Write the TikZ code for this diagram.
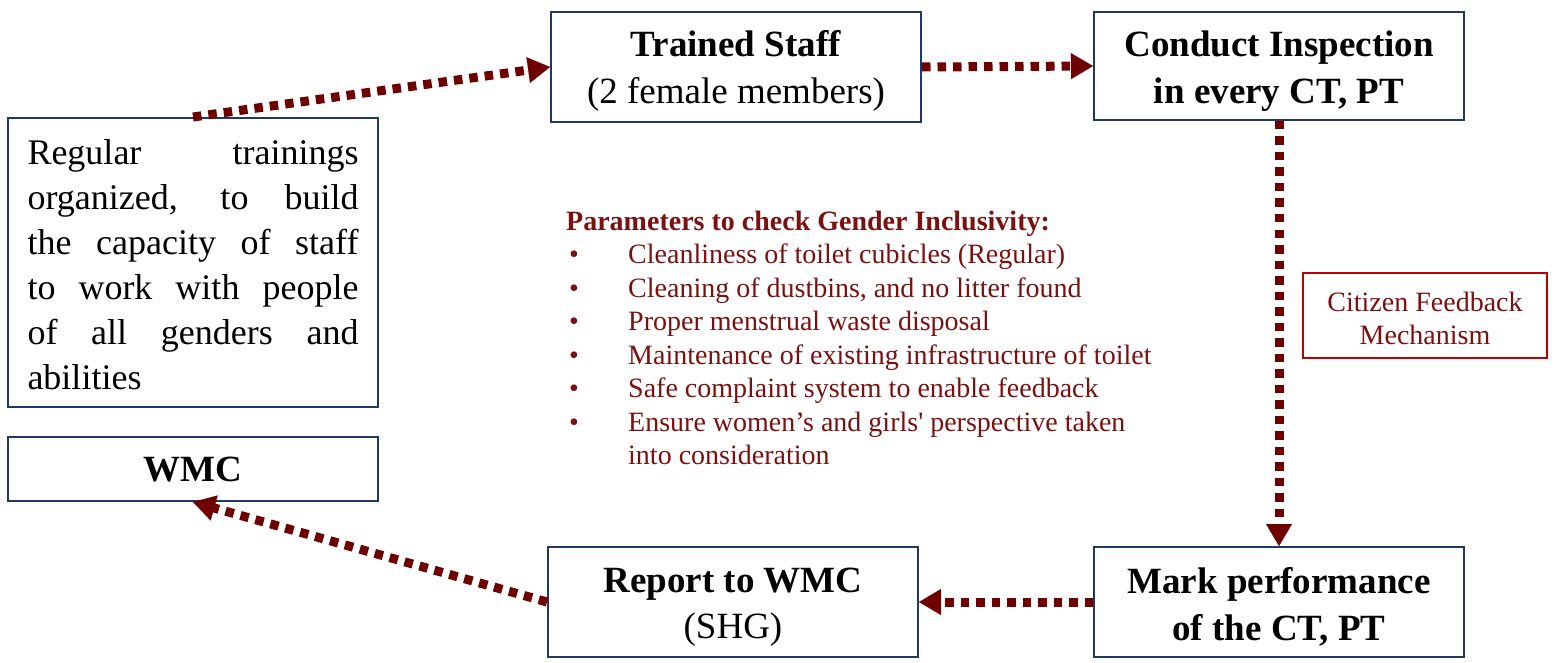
\documentclass[tikz,border=0pt]{standalone}
\usepackage{fontspec}
\setmainfont{Liberation Serif}
\usetikzlibrary{arrows.meta}
\definecolor{navy}{HTML}{1F3864}
\definecolor{arrowred}{HTML}{6E0000}
\definecolor{txtred}{HTML}{7B1010}
\definecolor{boxred}{HTML}{C00000}
\begin{document}
\begin{tikzpicture}[x=1pt,y=-1pt,
  box/.style={draw=navy, line width=2pt, minimum width=370pt, inner sep=0pt},
  boxtext/.style={inner sep=0pt, align=center, font=\fontsize{37}{46.5}\selectfont},
  flow/.style={draw=arrowred, line width=9pt, dash pattern=on 8.5pt off 7pt,
    -{Triangle[length=22pt,width=26pt,line width=0.1pt]}}]
\useasboundingbox (0,0) rectangle (1563,663);
\node[box, minimum height=110pt] (staff) at (736,67) {};
\node[boxtext] (staffT) at ([yshift=-4pt]staff.center) {\textbf{Trained Staff}\\(2 female members)};
\node[box, minimum height=108pt] (insp) at (1279,66) {};
\node[boxtext] (inspT) at ([yshift=-5pt]insp.center) {\textbf{Conduct Inspection}\\\textbf{in every CT, PT}};
\node[box, minimum height=289pt] (train) at (193,262.5) {};
\node[inner sep=0pt, text width=331pt, align=justify, font=\fontsize{36}{45}\selectfont] (trainT)
  at ([yshift=-2pt]train.center)
  {Regular trainings\linebreak organized, to build\linebreak the capacity of staff\linebreak to work with people\linebreak of all genders and\linebreak abilities};
\node[box, minimum height=64pt] (wmc) at (193,469) {};
\node[boxtext] (wmcT) at ([yshift=-1pt]wmc.center) {\textbf{WMC}};
\node[box, minimum height=110pt] (report) at (733,602) {};
\node[boxtext] (reportT) at ([yshift=-5pt]report.center) {\textbf{Report to WMC}\\(SHG)};
\node[box, minimum height=110pt] (mark) at (1279,602) {};
\node[boxtext] (markT) at ([yshift=-5pt]mark.center) {\textbf{Mark performance}\\\textbf{of the CT, PT}};
\node[draw=boxred, line width=2pt, minimum width=244pt, minimum height=85pt, inner sep=0pt] (cfm) at (1425,315.5) {};
\node[inner sep=0pt, align=center, text=txtred, font=\fontsize{28}{33}\selectfont] (cfmT)
  at ([yshift=-3pt]cfm.center) {Citizen Feedback\\Mechanism};
\node[anchor=north west, inner sep=0pt, text=txtred] (params) at (566,206.5)
  {\fontsize{28}{33.5}\selectfont
   \begin{tabular}{@{}p{62pt}@{}l@{}}
   \multicolumn{2}{@{}l@{}}{\textbf{Parameters to check Gender Inclusivity:}}\\
   \hspace*{3pt}\textbullet & Cleanliness of toilet cubicles (Regular)\\
   \hspace*{3pt}\textbullet & Cleaning of dustbins, and no litter found\\
   \hspace*{3pt}\textbullet & Proper menstrual waste disposal\\
   \hspace*{3pt}\textbullet & Maintenance of existing infrastructure of toilet\\
   \hspace*{3pt}\textbullet & Safe complaint system to enable feedback\\
   \hspace*{3pt}\textbullet & Ensure women’s and girls\textquotesingle{} perspective taken\\
   & into consideration
   \end{tabular}};
\draw[flow] (train.north) -- (staff.west);
\draw[flow] (staff.east) -- (insp.west);
\draw[flow] (insp.south) -- (mark.north);
\draw[flow] (mark.west) -- (report.east);
\draw[flow] (report.west) -- (wmc.south);
\end{tikzpicture}
\end{document}
